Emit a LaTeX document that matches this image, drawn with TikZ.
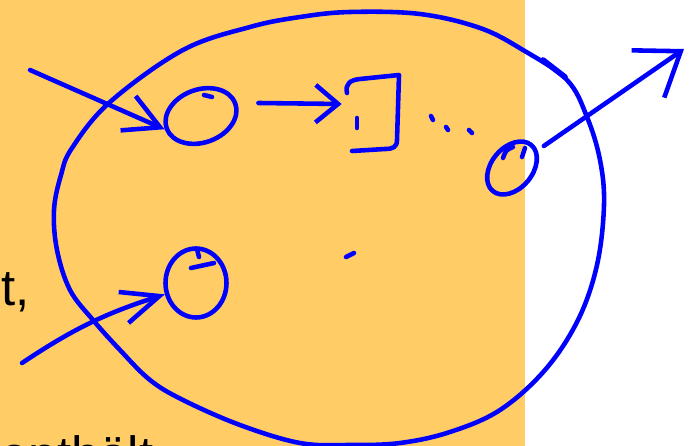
\documentclass[tikz,border=0pt]{standalone}
\usepackage{fontspec}
\setmainfont{Liberation Sans}
\usetikzlibrary{arrows.meta,shapes.geometric}
\definecolor{slidebg}{RGB}{255,204,102}
\definecolor{inkblue}{RGB}{0,0,255}
\begin{document}
\begin{tikzpicture}[
    x=0.02cm, y=-0.02cm,
    ink/.style={draw=inkblue, line width=2.6pt, line cap=round, line join=round},
    loop/.style={ellipse, ink, inner sep=0pt},
    slidetext/.style={font=\fontsize{29}{34}\selectfont, inner sep=0pt, anchor=base west},
    barb/.style 2 args={-{Straight Barb[length=#1, width=#2]}},
]
\useasboundingbox (0,0) rectangle (693,446);
\clip (0,0) rectangle (693,446);
\fill[slidebg] (0,0) rectangle (525,446);
\node[slidetext] (tcomma) at (1,305) {t,};
\node[slidetext] (enthaelt) at (0,472) {enthält};

% the system boundary
\draw[ink] plot[smooth cycle, tension=0.6] coordinates {
  (480,28) (523,50) (567,80) (587,117) (600,160) (604,205) (597,265)
  (578,320) (545,370) (500,410) (450,432) (400,443) (350,445) (300,443)
  (240,425) (183,400) (150,380) (120,350) (93,320) (70,290) (57,250)
  (54,210) (61,175) (72,148) (110,102) (183,50) (250,27) (300,17)
  (350,12) (420,14)};
\draw[ink, line width=3.2pt] (543,60) -- (565,77);

% stations
\node[loop, minimum width=1.46cm, minimum height=1.06cm, rotate=20] (c1) at (201,116) {};
\node[loop, minimum width=1.22cm, minimum height=1.38cm] (c2) at (196,283) {};
\node[loop, minimum width=1.2cm, minimum height=0.82cm, rotate=50] (c3) at (512,168) {};
\node[minimum width=1cm, minimum height=1.44cm] (queue) at (375,113) {};
\coordinate (src1) at (30,70);
\coordinate (src2) at (22,363);
\coordinate (exit) at (684,49);

\draw[ink] (204,95) -- (212,97);
\draw[ink] (199,257) -- (197,249);
\draw[ink] (214,263) -- (191,268);
\draw[ink] (503,158) .. controls (506,150) .. (513,147);
\draw[ink] (522,157) -- (525,148);

% queue
\draw[ink] (347,93) .. controls (345,84) and (350,80) .. (360,79) -- (399,75)
  -- (397,140) .. controls (397,147) and (393,149) .. (385,149) -- (352,151);
\draw[ink] (357,118) -- (357,128);
\draw[ink] (431,116) -- (433,120);
\draw[ink] (446,127) -- (448,130);
\draw[ink] (469,130) -- (472,133);
\draw[ink] (346,257) -- (354,253);

% flows
\draw[ink, barb={0.7cm}{0.75cm}] (src1) -- (c1.west);
\draw[ink, barb={0.45cm}{0.75cm}, shorten <=0.42cm] (c1.east) -- ([shift={(-8,-9)}]queue.west);
\draw[ink, barb={0.75cm}{0.65cm}] (src2) to[bend left=8] (c2.200);
\draw[ink, barb={0.8cm}{1.15cm}, shorten <=0.15cm] (c3) -- (exit);
\end{tikzpicture}
\end{document}
